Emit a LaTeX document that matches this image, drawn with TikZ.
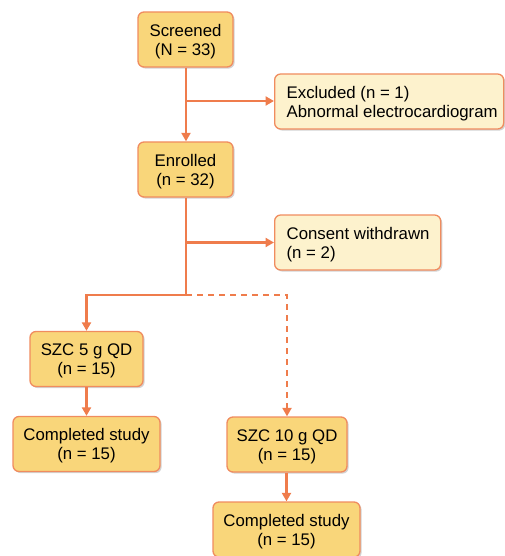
\documentclass[tikz,border=0pt]{standalone}
\usepackage{fontspec}
\setmainfont{Liberation Sans}
\usetikzlibrary{shadows,arrows.meta}
\definecolor{boxfill}{RGB}{249,214,122}
\definecolor{lightfill}{RGB}{253,242,205}
\definecolor{boxline}{RGB}{240,140,95}
\definecolor{arrowc}{RGB}{239,124,76}
\newcommand\boxtext[3]{\raisebox{-2.5pt}[\height][\depth]{\begin{tabular}{@{}#1@{}}#2\\#3\end{tabular}}}
\tikzset{
  base/.style={draw=boxline, line width=1.3pt, rounded corners=6pt,
    font=\fontsize{16.8pt}{19pt}\selectfont, inner ysep=0pt,
    drop shadow={shadow xshift=1.6pt, shadow yshift=-1.6pt, opacity=0.35, fill=gray}},
  mainbox/.style={base, fill=boxfill, minimum height=55pt, inner xsep=4pt},
  sidebox/.style={base, fill=lightfill, minimum height=55pt, inner xsep=12pt},
  conn/.style={draw=arrowc, line width=2.8pt, -{Triangle[length=8.5pt,width=9pt]}},
  plainconn/.style={draw=arrowc, line width=2.8pt},
  dashconn/.style={conn, dash pattern=on 6pt off 5pt}
}
\begin{document}
\begin{tikzpicture}[x=1pt,y=-1pt]
\useasboundingbox (0,0) rectangle (504,556);
\node[mainbox, minimum width=95pt] (scr) at (185.5,39.5) {\boxtext{c}{Screened}{(N = 33)}};
\node[sidebox, anchor=west] (exc) at (274,101.5) {\makebox[205pt][l]{\boxtext{l}{Excluded (n = 1)}{Abnormal electrocardiogram}}};
\node[mainbox, minimum width=95pt] (enr) at (185.5,169.5) {\boxtext{c}{Enrolled}{(n = 32)}};
\node[sidebox, anchor=west] (con) at (274,242.5) {\makebox[142pt][l]{\boxtext{l}{Consent withdrawn}{(n = 2)}}};
\node[mainbox, minimum width=113pt] (szc5) at (86.5,359) {\boxtext{c}{SZC 5 g QD}{(n = 15)}};
\node[mainbox, minimum width=147pt] (comp5) at (86.5,444) {\boxtext{c}{Completed study}{(n = 15)}};
\node[mainbox, minimum width=120pt] (szc10) at (287,444.5) {\boxtext{c}{SZC 10 g QD}{(n = 15)}};
\node[mainbox, minimum width=147pt] (comp10) at (286.5,529.5) {\boxtext{c}{Completed study}{(n = 15)}};
\coordinate (b1) at (186,101);
\coordinate (b2) at (186,242.5);
\coordinate (split) at (186,295);
\draw[conn] (scr.south -| b1) -- (enr.north -| b1);
\draw[conn] (b1) -- (exc.west |- b1);
\draw[conn] (b2) -- (con.west |- b2);
\draw[plainconn] (enr.south -| split) -- (split);
\draw[conn] (split) -| (szc5.north);
\draw[dashconn] (split) -| (szc10.north);
\draw[conn] (szc5) -- (comp5);
\draw[conn] (szc10.south -| comp10.north) -- (comp10.north);
\end{tikzpicture}
\end{document}
